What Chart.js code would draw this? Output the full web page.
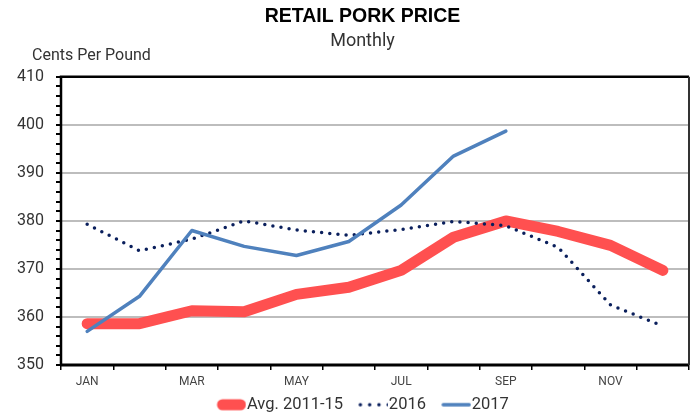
<!DOCTYPE html>
<html>
<head>
<meta charset="utf-8">
<script src="https://cdn.jsdelivr.net/npm/chart.js@4"></script>
<style>
html,body{margin:0;padding:0;background:#fff;}
#wrap{width:692px;height:414px;}
</style>
</head>
<body>
<div id="wrap"><canvas id="c" width="692" height="414"></canvas></div>
<script>
const months = ['JAN','FEB','MAR','APR','MAY','JUN','JUL','AUG','SEP','OCT','NOV','DEC'];
const avg2011_15 = [358.6, 358.6, 361.3, 361.1, 364.7, 366.2, 369.7, 376.6, 380.0, 377.8, 374.9, 369.7];
const y2016 = [379.3, 373.8, 376.2, 380.0, 378.1, 377.0, 378.2, 379.9, 379.0, 374.5, 362.5, 358.1];
const y2017 = [357.0, 364.3, 378.0, 374.7, 372.8, 375.7, 383.3, 393.5, 398.7];
const yTickLabels = [350, 360, 370, 380, 390, 400, 410];

const FONT = "Roboto, 'Liberation Sans', sans-serif";
const TITLE_FONT = "'Liberation Sans', Arial, sans-serif";

const RED = '#FF5050', NAVY = '#0A1F5C', BLUE = '#4F81BD';

function sample(kind, color) {
  const c = document.createElement('canvas');
  c.width = 38; c.height = 14;
  const x = c.getContext('2d');
  x.strokeStyle = color; x.lineCap = 'round';
  x.beginPath();
  if (kind === 'thick') { x.lineWidth = 11; x.moveTo(14, 7); x.lineTo(32, 7); }
  else if (kind === 'dots') { x.lineWidth = 3.5; x.setLineDash([0, 9.3]); x.moveTo(10, 7); x.lineTo(38, 7); }
  else { x.lineWidth = 3.5; x.moveTo(10, 7); x.lineTo(36, 7); }
  x.stroke();
  return c;
}
const samples = [sample('thick', RED), sample('dots', NAVY), sample('line', BLUE)];

function noClip(s) { s._computeLabelArea = function() { return undefined; }; }

const frame = {
  id: 'frame',
  afterDraw(chart) {
    const a = chart.chartArea, ctx = chart.ctx;
    ctx.save();
    ctx.strokeStyle = '#000';
    ctx.lineWidth = 2.5;
    ctx.beginPath();
    ctx.moveTo(a.left, a.bottom);
    ctx.lineTo(a.left, a.top);
    ctx.lineTo(a.right, a.top);
    ctx.stroke();
    ctx.lineWidth = 3;
    ctx.beginPath();
    ctx.moveTo(a.left - 1, a.bottom);
    ctx.lineTo(a.right, a.bottom);
    ctx.stroke();
    ctx.lineWidth = 2;
    ctx.strokeStyle = '#333';
    ctx.beginPath();
    ctx.moveTo(a.right, a.top);
    ctx.lineTo(a.right, a.bottom);
    ctx.stroke();
    ctx.fillStyle = '#333';
    ctx.font = "16px " + FONT;
    ctx.textAlign = 'left';
    ctx.textBaseline = 'alphabetic';
    ctx.fillText('Cents Per Pound', 32, 60);
    ctx.restore();
  }
};

new Chart(document.getElementById('c'), {
  type: 'line',
  data: {
    labels: months,
    datasets: [
      {label: 'Avg. 2011-15', data: avg2011_15, borderColor: RED, backgroundColor: RED,
       borderWidth: 11, borderCapStyle: 'round', borderJoinStyle: 'round', pointRadius: 0, order: 2},
      {label: '2016', data: y2016, borderColor: NAVY, backgroundColor: NAVY,
       borderWidth: 3.5, borderDash: [0, 8.2], borderCapStyle: 'round', pointRadius: 0, order: 1},
      {label: '2017', data: y2017, borderColor: BLUE, backgroundColor: BLUE,
       borderWidth: 3.5, borderCapStyle: 'round', borderJoinStyle: 'round', pointRadius: 0, order: 0}
    ]
  },
  options: {
    responsive: false,
    animation: false,
    layout: {padding: {left: 36, right: 3, top: 0, bottom: -9}},
    plugins: {
      title: {display: true, text: 'RETAIL PORK PRICE', color: '#000',
        font: {family: TITLE_FONT, size: 19.5, weight: 'bold'}, padding: {top: 5, bottom: 2.5}},
      subtitle: {display: true, text: 'Monthly', color: '#333',
        font: {family: FONT, size: 18}, padding: {top: 0, bottom: 24.3}},
      legend: {position: 'bottom',
        labels: {usePointStyle: true, pointStyleWidth: 22.5, padding: 15,
          color: '#333', font: {family: FONT, size: 16.5},
          sort: (a, b) => a.datasetIndex - b.datasetIndex,
          generateLabels(chart) {
            const items = Chart.defaults.plugins.legend.labels.generateLabels(chart);
            items.forEach(it => { it.pointStyle = samples[it.datasetIndex]; });
            return items;
          }}},
      tooltip: {enabled: false}
    },
    scales: {
      x: {
        offset: true,
        afterFit(s) { s.height = 16.5; noClip(s); },
        grid: {offset: true, drawOnChartArea: false, tickColor: '#000', tickLength: 5, lineWidth: 1.5},
        border: {display: false},
        ticks: {autoSkip: false, maxRotation: 0, color: '#444', font: {family: FONT, size: 12}, padding: 5,
          callback: function(v, i) { return i % 2 === 0 ? this.getLabelForValue(v) : ''; }}
      },
      y: {
        min: 350, max: 410,
        afterFit(s) { s.width = 25; noClip(s); },
        afterBuildTicks(s) {
          const t = [];
          for (let v = 350; v <= 410; v += 2) t.push({value: v});
          s.ticks = t;
        },
        grid: {
          color: (c) => (c.tick && yTickLabels.includes(c.tick.value) && c.tick.value !== 350 && c.tick.value !== 410) ? '#BDBDBD' : 'rgba(0,0,0,0)',
          lineWidth: 2, tickColor: '#000', tickLength: 5
        },
        border: {display: false},
        ticks: {autoSkip: false, color: '#333', font: {family: FONT, size: 16}, padding: 12,
          callback: (v) => yTickLabels.includes(v) ? String(v) : ''}
      }
    }
  },
  plugins: [frame]
});
</script>
</body>
</html>
